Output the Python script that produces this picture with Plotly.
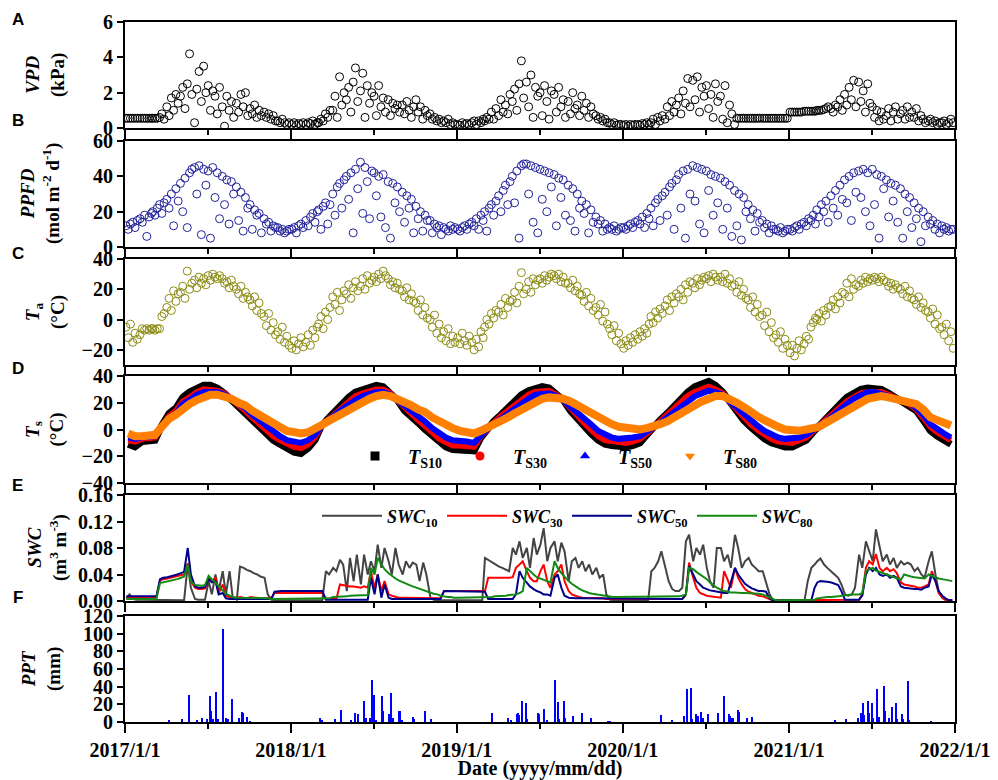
import plotly.graph_objects as go
from plotly.subplots import make_subplots

years = [2017, 2018, 2019, 2020, 2021]
scatter_days = [3, 8, 13, 18, 23, 28]
ts_days = [8, 23]
swc_days = [4, 11, 19, 26]

year_ticks = ["2017-01-01", "2018-01-01", "2019-01-01", "2020-01-01", "2021-01-01", "2022-01-01"]
year_labels = ["2017/1/1", "2018/1/1", "2019/1/1", "2020/1/1", "2021/1/1", "2022/1/1"]
half_ticks = ["2017-07-02", "2018-07-02", "2019-07-02", "2020-07-02", "2021-07-02"]

# ---------------- VPD (kPa) ----------------
vpd_2017 = [0.55,0.55,0.55,0.55,0.55,0.55, 0.55,0.55,0.55,0.55,0.55,0.55, 0.55,0.55,0.55,0.6,0.8,0.5,
            1.2,0.7,1.7,1.0,1.9,1.4, 1.8,2.3,1.1,2.5,4.2,1.9, 0.3,2.2,3.2,1.5,3.5,2.0,
            2.4,1.0,2.1,1.8,0.8,2.3, 1.2,0.1,1.8,1.0,1.5,0.6, 1.4,0.9,1.9,1.2,2.0,0.7,
            1.1,0.8,1.3,0.6,1.0,0.7, 0.9,0.6,0.8,0.5,0.7,0.4, 0.4,0.3,0.5,0.3,0.2,0.3]
vpd_2018 = [0.2,0.3,0.15,0.25,0.2,0.3, 0.2,0.3,0.25,0.4,0.2,0.3, 0.3,0.5,0.4,0.8,0.6,1.0,
            1.0,1.8,0.6,2.9,1.3,2.0, 1.6,2.3,0.9,2.6,3.4,1.5, 2.1,3.1,0.6,2.4,1.4,2.0,
            1.8,0.7,2.4,1.2,1.7,0.9, 1.6,0.7,1.4,1.1,1.3,0.9, 1.3,0.8,1.5,1.0,0.6,1.2,
            1.6,0.9,1.2,0.5,1.0,0.7, 0.8,0.5,0.6,0.4,0.5,0.3, 0.4,0.3,0.5,0.2,0.3,0.2]
vpd_2019 = [0.2,0.15,0.3,0.2,0.25,0.2, 0.3,0.4,0.2,0.4,0.3,0.5, 0.4,0.6,0.5,0.9,0.5,1.1,
            0.7,1.6,0.9,1.3,0.8,1.9, 1.5,2.2,1.0,2.5,3.8,1.7, 2.6,1.2,3.0,0.6,2.3,1.8,
            2.0,0.7,2.4,1.5,0.5,2.1, 1.9,0.9,2.3,1.2,1.6,0.6, 1.5,0.8,2.0,1.1,1.3,0.7,
            1.8,1.0,1.4,0.6,1.2,0.8, 0.7,0.5,0.6,0.4,0.5,0.3, 0.3,0.2,0.3,0.15,0.2,0.2]
vpd_2020 = [0.15,0.2,0.1,0.2,0.15,0.2, 0.2,0.15,0.25,0.2,0.3,0.2, 0.3,0.5,0.2,0.6,0.4,0.7,
            0.5,1.2,0.7,1.5,0.9,1.3, 1.7,0.8,2.1,1.4,2.8,1.2, 2.7,1.6,2.9,0.9,2.3,1.8,
            2.4,1.1,1.9,0.6,2.5,1.5, 1.8,0.5,2.4,0.3,1.3,0.8, 0.2,0.55,0.55,0.55,0.55,0.55,
            0.55,0.55,0.55,0.55,0.55,0.55, 0.55,0.55,0.55,0.55,0.55,0.55, 0.55,0.55,0.55,0.55,0.55,0.55]
vpd_2021 = [0.9,0.9,0.9,0.9,0.9,0.9, 0.95,0.95,0.95,0.95,0.95,0.95, 1.0,1.0,1.0,1.05,1.1,1.2,
            1.1,0.9,1.3,1.2,1.6,1.0, 1.9,1.3,2.3,1.6,2.7,1.2, 2.6,1.5,2.1,0.9,2.5,1.4,
            1.2,0.6,1.0,0.4,0.9,0.5, 0.7,1.1,0.4,0.9,1.2,0.5, 0.8,1.0,0.5,1.2,0.6,0.9,
            0.6,1.1,0.4,0.7,0.5,0.3, 0.4,0.5,0.3,0.4,0.2,0.3, 0.3,0.4,0.2,0.3,0.5,0.3]

# ---------------- PPFD (mol m-2 d-1) ----------------
ppfd_2017 = [12,10,13,14,11,15, 16,14,18,6,17,19, 20,18,22,24,19,25, 27,22,30,12,33,26,
             36,20,39,11,42,44, 45,30,46,7,44,35, 43,5,45,28,42,16, 40,24,38,13,37,30,
             34,15,31,9,28,22, 24,10,21,18,19,8, 16,13,14,9,12,11, 11,9,10,8,9,10]
ppfd_2018 = [10,11,8,12,13,11, 15,12,17,19,14,20, 21,10,23,25,13,24, 30,18,34,36,22,38,
             40,27,42,8,44,33, 48,19,45,37,16,43, 42,29,40,17,41,11, 37,5,36,25,34,20,
             31,14,29,22,27,8, 23,16,20,9,18,15, 15,8,13,11,12,7, 11,10,9,12,10,11]
ppfd_2019 = [10,9,11,12,10,13, 14,12,16,10,18,15, 20,9,22,24,18,26, 29,20,32,35,24,37,
             40,25,43,5,46,47, 47,30,46,14,45,8, 44,27,43,20,42,34, 41,12,39,28,38,18,
             35,15,33,9,30,22, 26,19,24,8,21,14, 17,13,15,9,13,10, 11,10,12,9,10,11]
ppfd_2020 = [11,10,12,13,11,14, 15,13,17,11,19,16, 22,12,25,27,15,29, 31,18,34,36,10,38,
             41,22,43,5,44,30, 46,26,45,13,44,8, 43,32,41,18,40,25, 39,10,37,22,35,6,
             32,12,30,4,28,20, 24,16,21,9,19,14, 15,11,13,8,12,10, 10,9,11,8,9,10]
ppfd_2021 = [10,9,11,12,10,13, 14,12,16,15,18,13, 21,17,24,20,26,14, 29,22,32,18,35,27,
             38,25,40,15,42,31, 43,28,44,20,42,12, 44,24,41,5,40,33, 38,17,36,26,35,14,
             33,5,30,20,28,11, 25,16,22,3,20,12, 17,13,15,10,13,8, 12,10,11,9,10,10]

# ---------------- Ta (degC) ----------------
ta_2017 = [-5,-12,-3,-15,-9,-13, -10,-6,-7,-6,-7,-6, -6,-7,-6,-6,2,4, 8,14,6,19,12,17,
           18,22,14,32,20,24, 26,21,28,24,27,23, 29,26,30,28,27,29, 27,24,25,21,26,22,
           20,17,22,14,18,15, 13,9,15,6,11,4, 2,-4,4,-7,-2,-10, -8,-13,-5,-15,-11,-17]
ta_2018 = [-19,-14,-20,-16,-12,-18, -15,-10,-17,-7,-12,-5, -3,2,-6,5,0,8, 15,10,18,6,13,19,
           17,23,14,21,25,19, 22,27,20,29,24,26, 28,25,30,27,32,29, 27,23,25,21,24,20,
           19,15,21,13,17,12, 11,6,13,3,8,1, 0,-5,3,-9,-3,-12, -8,-14,-6,-16,-11,-15]
ta_2019 = [-12,-16,-9,-14,-17,-11, -15,-20,-13,-18,-8,-12, -5,0,-3,4,1,6, 5,10,3,14,8,12,
           13,18,11,22,31,17, 20,25,18,27,23,26, 27,24,29,26,28,30, 29,27,30,25,28,24,
           24,21,26,19,22,17, 16,12,18,9,14,6, 8,3,10,-1,5,-3, -6,-10,-4,-14,-9,-16]
ta_2020 = [-19,-14,-17,-12,-15,-10, -13,-8,-11,-6,-9,-3, 2,-2,5,1,7,4, 9,13,6,15,11,17,
           15,20,13,23,18,25, 24,21,27,23,26,28, 27,29,25,30,28,26, 28,25,30,24,27,22,
           23,18,25,16,20,14, 13,8,15,5,10,2, 3,-4,5,-8,-2,-12, -10,-15,-8,-19,-13,-17]
ta_2021 = [-22,-17,-24,-19,-14,-20, -16,-11,-13,-5,-2,1, 0,4,-1,6,3,8, 9,13,7,15,11,18,
           17,24,15,27,20,23, 22,26,24,28,25,27, 26,28,27,25,28,26, 25,22,24,20,23,21,
           20,17,22,15,19,14, 13,10,15,8,11,6, 5,1,7,-3,3,-6, -5,-10,-3,-14,-8,-19]

# ---------------- Ts (degC), two values per month ----------------
ts10_2017 = [-11,-13, -9,-9, -8,3, 12,16, 24,28, 31,33, 33,31, 27,22, 16,12, 6,1, -4,-8, -11,-14]
ts10_2018 = [-17,-18, -14,-8, 2,8, 14,20, 24,28, 30,31, 33,32, 27,22, 14,10, 5,0, -5,-10, -13,-15]
ts10_2019 = [-15,-15, -16,-6, 0,6, 11,16, 22,26, 29,31, 32,31, 27,22, 14,8, 2,-3, -8,-11, -12,-13]
ts10_2020 = [-13,-12, -10,-4, 2,7, 12,18, 24,28, 32,34, 36,33, 28,21, 13,7, 2,-3, -7,-10, -12,-13]
ts10_2021 = [-13,-11, -8,-2, 3,8, 14,19, 24,27, 30,31, 31,30, 27,24, 21,18, 14,7, -1,-5, -8,-11]

ts30_2017 = [-8,-9, -7,-7, -6,2, 10,14, 21,24, 28,30, 30,29, 27,23, 18,14, 9,4, -1,-5, -8,-11]
ts30_2018 = [-13,-14, -11,-6, 2,7, 12,17, 21,25, 27,29, 30,30, 27,22, 16,12, 7,3, -2,-7, -10,-12]
ts30_2019 = [-12,-12, -13,-5, 0,5, 10,14, 19,23, 26,28, 29,29, 26,22, 16,10, 5,0, -5,-8, -9,-10]
ts30_2020 = [-10,-9, -7,-3, 2,6, 11,16, 21,25, 28,30, 32,30, 27,21, 15,9, 4,0, -4,-7, -9,-10]
ts30_2021 = [-10,-8, -6,-1, 3,7, 12,17, 21,24, 27,28, 28,28, 26,23, 21,19, 15,9, 2,-2, -5,-8]

ts50_2017 = [-6,-7, -6,-6, -5,2, 9,12, 19,22, 26,28, 28,28, 26,23, 19,16, 11,7, 2,-2, -5,-8]
ts50_2018 = [-9,-10, -8,-4, 2,7, 11,15, 19,22, 25,27, 28,28, 26,22, 18,14, 10,6, 1,-3, -6,-8]
ts50_2019 = [-8,-9, -10,-4, 0,4, 8,12, 16,20, 23,26, 27,27, 25,22, 17,13, 8,4, -1,-4, -6,-7]
ts50_2020 = [-7,-6, -5,-2, 2,5, 9,13, 18,22, 25,27, 29,28, 26,21, 16,11, 7,3, -1,-4, -6,-7]
ts50_2021 = [-7,-6, -4,0, 3,6, 11,15, 19,23, 26,28, 28,27, 25,23, 21,20, 16,11, 4,0, -3,-6]

ts80_2017 = [-3,-5, -5,-5, -4,2, 8,11, 16,19, 22,24, 26,26, 25,23, 20,18, 14,11, 8,5, 2,-1]
ts80_2018 = [-2,-3, -2,0, 3,6, 9,13, 16,18, 21,23, 25,26, 25,23, 21,18, 15,13, 9,6, 4,1]
ts80_2019 = [-1,-2, -3,-1, 1,3, 6,9, 12,15, 18,21, 23,24, 24,23, 21,18, 15,12, 10,7, 4,2]
ts80_2020 = [1,0, 0,1, 2,4, 6,9, 13,16, 19,21, 23,25, 25,23, 20,17, 13,10, 7,4, 2,0]
ts80_2021 = [-1,-1, 0,1, 2,5, 8,12, 15,18, 21,23, 24,25, 24,23, 22,21, 19,15, 9,7, 5,3]

# ---------------- SWC (m3 m-3), four values per month ----------------
swc10_2017 = [0.004,0.010,0.003,0.002, 0.002,0.002,0.001,0.001, 0.001,0.001,0.001,0.001, 0.001,0.001,0.001,0.001,
              0.001,0.001,0.055,0.020, 0.003,0.002,0.002,0.002, 0.030,0.010,0.040,0.015, 0.045,0.010,0.045,0.005,
              0.002,0.052,0.050,0.047, 0.045,0.042,0.040,0.037, 0.035,0.010,0.002,0.001, 0.001,0.001,0.001,0.001]
swc30_2017 = [0.005,0.005,0.005,0.005, 0.005,0.005,0.005,0.005, 0.005,0.005,0.031,0.033, 0.034,0.035,0.036,0.037,
              0.038,0.040,0.057,0.030, 0.020,0.018,0.018,0.019, 0.035,0.030,0.035,0.012, 0.025,0.008,0.006,0.005,
              0.005,0.006,0.005,0.004, 0.006,0.005,0.005,0.004, 0.004,0.004,0.004,0.012, 0.012,0.012,0.012,0.012]
swc50_2017 = [0.007,0.007,0.007,0.007, 0.007,0.007,0.007,0.007, 0.007,0.007,0.033,0.035, 0.036,0.037,0.038,0.040,
              0.042,0.044,0.080,0.040, 0.022,0.020,0.020,0.021, 0.033,0.028,0.030,0.010, 0.012,0.004,0.003,0.003,
              0.003,0.003,0.003,0.003, 0.003,0.003,0.003,0.003, 0.003,0.003,0.003,0.014, 0.015,0.015,0.015,0.015]
swc80_2017 = [0.003,0.003,0.003,0.003, 0.003,0.003,0.003,0.003, 0.003,0.003,0.027,0.028, 0.029,0.030,0.031,0.033,
              0.035,0.037,0.055,0.030, 0.024,0.023,0.023,0.024, 0.038,0.033,0.028,0.022, 0.016,0.011,0.008,0.006,
              0.005,0.005,0.005,0.005, 0.004,0.004,0.004,0.004, 0.004,0.004,0.003,0.003, 0.003,0.003,0.003,0.003]

swc10_2018 = [0.001,0.001,0.001,0.001, 0.001,0.001,0.001,0.001, 0.001,0.001,0.045,0.040, 0.050,0.045,0.062,0.055,
              0.015,0.065,0.030,0.070, 0.025,0.070,0.040,0.060, 0.045,0.085,0.050,0.080, 0.060,0.040,0.080,0.055,
              0.040,0.060,0.050,0.058, 0.055,0.030,0.058,0.040, 0.005,0.002,0.001,0.001, 0.001,0.001,0.001,0.001]
swc30_2018 = [0.012,0.012,0.012,0.012, 0.012,0.012,0.012,0.012, 0.012,0.012,0.003,0.003, 0.003,0.003,0.025,0.024,
              0.023,0.022,0.022,0.021, 0.020,0.022,0.020,0.045, 0.020,0.040,0.015,0.030, 0.010,0.008,0.006,0.005,
              0.005,0.005,0.004,0.004, 0.004,0.004,0.004,0.004, 0.004,0.004,0.004,0.004, 0.015,0.015,0.015,0.015]
swc50_2018 = [0.015,0.015,0.015,0.015, 0.015,0.015,0.015,0.015, 0.015,0.015,0.002,0.002, 0.002,0.002,0.002,0.002,
              0.002,0.002,0.002,0.002, 0.002,0.002,0.002,0.035, 0.010,0.040,0.005,0.025, 0.005,0.003,0.003,0.003,
              0.003,0.003,0.003,0.003, 0.003,0.003,0.003,0.003, 0.003,0.003,0.003,0.003, 0.015,0.015,0.015,0.015]
swc80_2018 = [0.003,0.003,0.003,0.003, 0.003,0.003,0.003,0.003, 0.003,0.003,0.003,0.004, 0.006,0.006,0.007,0.007,
              0.007,0.008,0.008,0.008, 0.008,0.009,0.009,0.050, 0.040,0.065,0.055,0.048, 0.042,0.038,0.034,0.031,
              0.028,0.026,0.024,0.022, 0.020,0.018,0.016,0.015, 0.013,0.011,0.010,0.008, 0.007,0.006,0.006,0.005]

swc10_2019 = [0.001,0.001,0.001,0.001, 0.001,0.001,0.001,0.001, 0.065,0.062,0.058,0.055, 0.052,0.050,0.047,0.045,
              0.080,0.070,0.090,0.065, 0.080,0.050,0.095,0.070, 0.085,0.110,0.060,0.080, 0.090,0.060,0.088,0.075,
              0.030,0.060,0.065,0.050, 0.060,0.045,0.055,0.040, 0.050,0.035,0.040,0.010, 0.002,0.001,0.001,0.001]
swc30_2019 = [0.015,0.015,0.015,0.015, 0.015,0.015,0.015,0.015, 0.015,0.035,0.035,0.034, 0.034,0.034,0.035,0.035,
              0.036,0.050,0.055,0.060, 0.045,0.035,0.030,0.030, 0.045,0.055,0.030,0.020, 0.040,0.045,0.055,0.030,
              0.015,0.010,0.008,0.006, 0.005,0.005,0.005,0.004, 0.004,0.004,0.004,0.003, 0.003,0.003,0.003,0.003]
swc50_2019 = [0.014,0.014,0.014,0.014, 0.014,0.014,0.014,0.014, 0.014,0.003,0.003,0.003, 0.003,0.003,0.003,0.003,
              0.003,0.010,0.045,0.035, 0.028,0.022,0.018,0.015, 0.013,0.010,0.010,0.008, 0.035,0.040,0.020,0.008,
              0.005,0.004,0.004,0.004, 0.004,0.004,0.003,0.003, 0.003,0.003,0.003,0.003, 0.003,0.003,0.003,0.003]
swc80_2019 = [0.005,0.005,0.005,0.005, 0.005,0.005,0.005,0.005, 0.005,0.006,0.006,0.007, 0.007,0.008,0.008,0.009,
              0.009,0.010,0.012,0.015, 0.050,0.045,0.040,0.036, 0.034,0.032,0.030,0.028, 0.060,0.050,0.042,0.036,
              0.030,0.026,0.022,0.019, 0.016,0.014,0.012,0.011, 0.010,0.009,0.008,0.007, 0.006,0.006,0.006,0.006]

swc10_2020 = [0.001,0.001,0.001,0.001, 0.001,0.001,0.001,0.001, 0.045,0.050,0.060,0.075, 0.050,0.030,0.018,0.015,
              0.015,0.020,0.090,0.100, 0.060,0.080,0.070,0.085, 0.050,0.030,0.020,0.080, 0.080,0.060,0.070,0.050,
              0.100,0.080,0.050,0.060, 0.065,0.055,0.050,0.045, 0.045,0.030,0.010,0.002, 0.001,0.001,0.001,0.001]
swc30_2020 = [0.003,0.003,0.003,0.003, 0.003,0.003,0.003,0.003, 0.003,0.003,0.003,0.003, 0.003,0.003,0.003,0.003,
              0.003,0.003,0.010,0.058, 0.035,0.020,0.012,0.010, 0.008,0.007,0.006,0.006, 0.005,0.045,0.030,0.020,
              0.050,0.035,0.025,0.018, 0.014,0.012,0.010,0.008, 0.007,0.005,0.002,0.001, 0.001,0.001,0.001,0.001]
swc50_2020 = [0.003,0.003,0.003,0.003, 0.003,0.003,0.003,0.003, 0.003,0.003,0.003,0.003, 0.003,0.003,0.003,0.003,
              0.003,0.003,0.010,0.053, 0.040,0.030,0.025,0.020, 0.018,0.016,0.015,0.014, 0.013,0.012,0.012,0.030,
              0.050,0.040,0.032,0.026, 0.022,0.019,0.017,0.015, 0.015,0.014,0.004,0.001, 0.001,0.001,0.001,0.001]
swc80_2020 = [0.006,0.006,0.006,0.006, 0.006,0.006,0.006,0.006, 0.007,0.007,0.007,0.007, 0.007,0.007,0.007,0.007,
              0.007,0.008,0.010,0.050, 0.048,0.044,0.040,0.037, 0.033,0.028,0.024,0.020, 0.017,0.015,0.014,0.013,
              0.013,0.012,0.012,0.012, 0.012,0.012,0.012,0.011, 0.010,0.008,0.005,0.003, 0.001,0.001,0.001,0.001]

swc10_2021 = [0.001,0.001,0.001,0.001, 0.001,0.030,0.050,0.055, 0.060,0.064,0.055,0.050, 0.045,0.040,0.035,0.025,
              0.010,0.008,0.010,0.020, 0.070,0.050,0.090,0.075, 0.060,0.108,0.080,0.060, 0.070,0.055,0.065,0.050,
              0.060,0.055,0.058,0.055, 0.045,0.050,0.040,0.035, 0.060,0.075,0.040,0.015, 0.005,0.002,0.001,0.001]
swc30_2021 = [0.001,0.001,0.001,0.001, 0.001,0.001,0.001,0.002, 0.002,0.002,0.002,0.002, 0.002,0.002,0.002,0.002,
              0.002,0.002,0.002,0.002, 0.002,0.010,0.050,0.060, 0.055,0.071,0.050,0.045, 0.050,0.045,0.048,0.042,
              0.028,0.025,0.024,0.022, 0.022,0.020,0.020,0.022, 0.025,0.045,0.030,0.012, 0.005,0.002,0.001,0.001]
swc50_2021 = [0.001,0.001,0.001,0.001, 0.001,0.001,0.001,0.020, 0.028,0.030,0.030,0.029, 0.028,0.026,0.024,0.015,
              0.002,0.002,0.002,0.002, 0.002,0.008,0.040,0.050, 0.045,0.050,0.040,0.038, 0.040,0.035,0.038,0.035,
              0.022,0.020,0.019,0.018, 0.018,0.018,0.017,0.020, 0.022,0.040,0.030,0.015, 0.008,0.004,0.001,0.001]
swc80_2021 = [0.002,0.002,0.002,0.002, 0.002,0.002,0.002,0.002, 0.004,0.005,0.005,0.006, 0.006,0.007,0.007,0.008,
              0.008,0.009,0.010,0.010, 0.010,0.012,0.045,0.048, 0.050,0.046,0.044,0.042, 0.040,0.038,0.036,0.034,
              0.032,0.040,0.038,0.037, 0.036,0.035,0.035,0.034, 0.040,0.038,0.036,0.034, 0.033,0.032,0.031,0.030]

# ---------------- PPT (mm) ----------------
ppt_dates_2017 = ["2017-04-07","2017-05-06","2017-05-23","2017-06-08","2017-06-20","2017-06-30","2017-07-08",
                  "2017-07-10","2017-07-13","2017-07-21","2017-07-24","2017-08-04","2017-08-12","2017-08-16",
                  "2017-08-24","2017-09-10","2017-09-16","2017-09-18","2017-09-26","2017-10-03"]
ppt_mm_2017 = [2,3,31,2,5,3,30,12,3,34,3,105,4,3,26,5,11,10,6,1]
ppt_dates_2018 = ["2018-03-07","2018-03-11","2018-04-08","2018-04-22","2018-05-14","2018-05-22","2018-05-29",
                  "2018-06-12","2018-06-15","2018-06-25","2018-06-29","2018-07-04","2018-07-08","2018-07-20",
                  "2018-07-23","2018-08-06","2018-08-10","2018-08-14","2018-08-27","2018-08-30","2018-09-02",
                  "2018-09-26","2018-09-28","2018-10-24","2018-11-05"]
ppt_mm_2018 = [4,2,3,14,2,10,9,24,4,5,47,31,2,29,12,9,33,4,13,13,2,6,3,12,3]
ppt_dates_2019 = ["2019-03-20","2019-04-24","2019-04-30","2019-05-13","2019-05-15","2019-05-17","2019-05-25",
                  "2019-06-02","2019-06-05","2019-06-28","2019-06-30","2019-07-02","2019-07-12","2019-07-19",
                  "2019-08-06","2019-08-11","2019-08-14","2019-08-25","2019-08-28","2019-09-13","2019-10-04",
                  "2019-10-24","2019-11-29","2019-12-05"]
ppt_mm_2019 = [10,5,2,9,10,8,24,21,3,10,9,8,15,2,47,23,3,24,4,7,10,4,1,1]
ppt_dates_2020 = ["2020-03-25","2020-04-19","2020-05-16","2020-05-21","2020-05-30","2020-06-02","2020-06-11",
                  "2020-06-14","2020-06-22","2020-06-25","2020-07-06","2020-07-29","2020-08-11","2020-08-22",
                  "2020-08-24","2020-08-27","2020-08-30","2020-09-10","2020-09-12","2020-09-14","2020-09-30",
                  "2020-10-11"]
ppt_mm_2020 = [8,2,7,37,39,3,9,7,11,4,9,10,30,9,7,4,5,14,11,6,5,6]
ppt_dates_2021 = ["2021-04-13","2021-05-07","2021-06-02","2021-06-09","2021-06-13","2021-06-16","2021-06-24",
                  "2021-06-26","2021-07-02","2021-07-04","2021-07-13","2021-07-17","2021-07-29","2021-07-31",
                  "2021-08-08","2021-08-16","2021-08-25","2021-08-27","2021-09-06","2021-09-09","2021-09-20",
                  "2021-09-23","2021-11-09"]
ppt_mm_2021 = [2,3,4,10,21,8,24,10,21,5,37,6,41,13,4,17,21,3,9,3,46,2,1]


def build(yearly, days):
    xs, ys = [], []
    for yr, vals in zip(years, yearly):
        ds = [f"{yr}-{m:02d}-{d:02d}" for m in range(1, 13) for d in days]
        n = min(len(ds), len(vals))
        xs += ds[:n]
        ys += vals[:n]
    return xs, ys


SERIF = "Liberation Serif, Times New Roman, serif"
SANS = "Liberation Sans, Arial, sans-serif"

fig = make_subplots(rows=6, cols=1, shared_xaxes=True, vertical_spacing=0.01)

# A: VPD
x, y = build([vpd_2017, vpd_2018, vpd_2019, vpd_2020, vpd_2021], scatter_days)
fig.add_trace(go.Scatter(x=x, y=y, mode="markers", showlegend=False,
                         marker=dict(symbol="circle-open", size=8, color="black", line=dict(width=1))), row=1, col=1)
# B: PPFD
x, y = build([ppfd_2017, ppfd_2018, ppfd_2019, ppfd_2020, ppfd_2021], scatter_days)
fig.add_trace(go.Scatter(x=x, y=y, mode="markers", showlegend=False,
                         marker=dict(symbol="circle-open", size=8, color="#22229a", line=dict(width=1))), row=2, col=1)
# C: Ta
x, y = build([ta_2017, ta_2018, ta_2019, ta_2020, ta_2021], scatter_days)
fig.add_trace(go.Scatter(x=x, y=y, mode="markers", showlegend=False,
                         marker=dict(symbol="circle-open", size=8, color="#8c8c14", line=dict(width=1))), row=3, col=1)

# D: Ts
ts_specs = [
    ([ts10_2017, ts10_2018, ts10_2019, ts10_2020, ts10_2021], "black", 7, "square", "<i>T</i><sub>S10</sub>"),
    ([ts30_2017, ts30_2018, ts30_2019, ts30_2020, ts30_2021], "#ff0000", 6, "circle", "<i>T</i><sub>S30</sub>"),
    ([ts50_2017, ts50_2018, ts50_2019, ts50_2020, ts50_2021], "#0000ff", 6, "triangle-up", "<i>T</i><sub>S50</sub>"),
    ([ts80_2017, ts80_2018, ts80_2019, ts80_2020, ts80_2021], "#ff8000", 8, "triangle-down", "<i>T</i><sub>S80</sub>"),
]
for yearly, col, lw, sym, name in ts_specs:
    x, y = build(yearly, ts_days)
    fig.add_trace(go.Scatter(x=x, y=y, mode="lines", showlegend=False,
                             line=dict(color=col, width=lw)), row=4, col=1)
for yearly, col, lw, sym, name in ts_specs:
    fig.add_trace(go.Scatter(x=[None], y=[None], mode="markers", name=name, legend="legend",
                             marker=dict(symbol=sym, size=9, color=col)), row=4, col=1)

# E: SWC
swc_specs = [
    ([swc10_2017, swc10_2018, swc10_2019, swc10_2020, swc10_2021], "#444444", "<i>SWC</i><sub>10</sub>"),
    ([swc30_2017, swc30_2018, swc30_2019, swc30_2020, swc30_2021], "#ff0000", "<i>SWC</i><sub>30</sub>"),
    ([swc50_2017, swc50_2018, swc50_2019, swc50_2020, swc50_2021], "#00008b", "<i>SWC</i><sub>50</sub>"),
    ([swc80_2017, swc80_2018, swc80_2019, swc80_2020, swc80_2021], "#138a13", "<i>SWC</i><sub>80</sub>"),
]
for yearly, col, name in swc_specs:
    x, y = build(yearly, swc_days)
    fig.add_trace(go.Scatter(x=x, y=y, mode="lines", name=name, legend="legend2",
                             line=dict(color=col, width=2)), row=5, col=1)

# F: PPT
px_, py_ = [], []
for ds, vs in [(ppt_dates_2017, ppt_mm_2017), (ppt_dates_2018, ppt_mm_2018), (ppt_dates_2019, ppt_mm_2019),
               (ppt_dates_2020, ppt_mm_2020), (ppt_dates_2021, ppt_mm_2021)]:
    for d, v in zip(ds, vs):
        px_.append(d)
        py_.append(v)
fig.add_trace(go.Bar(x=px_, y=py_, width=2.6 * 86400000, showlegend=False,
                     marker=dict(color="#0000ff", line=dict(width=0))), row=6, col=1)

# ---------------- Layout ----------------
# Screen-pixel geometry (the page body adds an 8 px offset to the figure)
OFF = 8
FIG_W, FIG_H = 998 - OFF, 780 - OFF
S_TOP, S_BOT, S_L, S_R = 22, 722, 125, 955
panels_px = [(22, 128), (141, 247), (259, 365), (376, 483), (495, 601), (616, 722)]

def xp(sx):
    return (sx - S_L) / (S_R - S_L)
def yp(sy):
    return (S_BOT - sy) / (S_BOT - S_TOP)

tickfont = dict(family=SERIF, size=20, color="black", weight="bold")
for i in range(1, 7):
    fig.update_xaxes(row=i, col=1, type="date", range=["2017-01-01", "2022-01-01"], automargin=False,
                     showline=True, linecolor="black", linewidth=2, mirror=True,
                     ticks="outside", ticklen=9, tickwidth=2, tickcolor="black",
                     tickmode="array", tickvals=year_ticks, ticktext=year_labels,
                     showgrid=False, zeroline=False, tickfont=tickfont,
                     minor=dict(tickmode="array", tickvals=half_ticks, ticks="outside", ticklen=5,
                                tickwidth=2, tickcolor="black", showgrid=False))
    t, b = panels_px[i - 1]
    fig.update_yaxes(row=i, col=1, domain=[yp(b), yp(t)], automargin=False,
                     showline=True, linecolor="black", linewidth=2,
                     mirror=True, ticks="outside", ticklen=6, tickwidth=2, tickcolor="black",
                     showgrid=False, zeroline=False, tickfont=tickfont)

fig.update_xaxes(row=6, col=1, title=dict(text="Date (yyyy/mm/dd)", standoff=2,
                                          font=dict(family=SERIF, size=20, color="black", weight="bold")))

fig.update_yaxes(row=1, col=1, range=[0, 6], tickvals=[0, 2, 4, 6])
fig.update_yaxes(row=2, col=1, range=[0, 60], tickvals=[0, 20, 40, 60])
fig.update_yaxes(row=3, col=1, range=[-30, 40], tickvals=[-20, 0, 20, 40])
fig.update_yaxes(row=4, col=1, range=[-40, 40], tickvals=[-40, -20, 0, 20, 40])
fig.update_yaxes(row=5, col=1, range=[0, 0.16], tickvals=[0, 0.04, 0.08, 0.12, 0.16], tickformat=".2f")
fig.update_yaxes(row=6, col=1, range=[0, 120], tickvals=[0, 20, 40, 60, 80, 100, 120])

y_titles = [
    "<i>VPD</i><br>(kPa)",
    "<i>PPFD</i><br>(mol m<sup>-2</sup> d<sup>-1</sup>)",
    "<i>T</i><sub>a</sub><br>(\u00b0C)",
    "<i>T</i><sub>s</sub><br>(\u00b0C)",
    "<i>SWC</i><br>(m<sup>3</sup> m<sup>-3</sup>)",
    "<i>PPT</i><br>(mm)",
]
title_x = [45, 41, 45, 45, 47, 41]
annotations = []
for (t, b), txt, tx in zip(panels_px, y_titles, title_x):
    annotations.append(dict(text=txt, xref="paper", yref="paper", x=xp(tx), y=yp((t + b) / 2),
                            xanchor="center", yanchor="middle", textangle=-90, showarrow=False,
                            font=dict(family=SERIF, size=19, color="black", weight="bold")))
letters = ["A", "B", "C", "D", "E", "F"]
letter_y = [20, 120, 254, 368, 485, 597]
for L, ly in zip(letters, letter_y):
    annotations.append(dict(text=L, xref="paper", yref="paper", x=xp(18), y=yp(ly),
                            xanchor="center", yanchor="middle", showarrow=False,
                            font=dict(family=SANS, size=17, color="black", weight="bold")))

fig.update_layout(
    width=FIG_W, height=FIG_H, autosize=False,
    margin=dict(l=S_L - OFF, r=FIG_W - (S_R - OFF), t=S_TOP - OFF, b=FIG_H - (S_BOT - OFF), autoexpand=False),
    paper_bgcolor="white", plot_bgcolor="white",
    annotations=annotations,
    legend=dict(orientation="h", x=xp(342), y=yp(456), xanchor="left", yanchor="middle",
                itemwidth=56, entrywidth=34, entrywidthmode="pixels",
                font=dict(family=SERIF, size=20, color="black", weight="bold"),
                bgcolor="rgba(0,0,0,0)", borderwidth=0),
    legend2=dict(orientation="h", x=xp(317), y=yp(516), xanchor="left", yanchor="middle",
                 itemwidth=60, entrywidth=50, entrywidthmode="pixels",
                 font=dict(family=SERIF, size=18, color="black", weight="bold"),
                 bgcolor="rgba(0,0,0,0)", borderwidth=0),
    bargap=0,
)

fig.write_html("out.html")
